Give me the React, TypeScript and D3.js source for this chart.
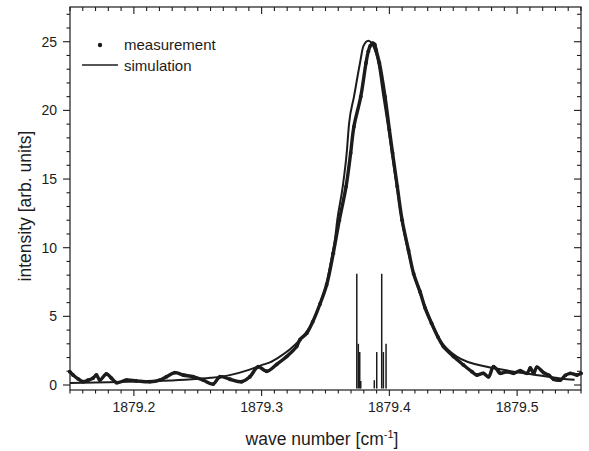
import React from "react";
import * as d3 from "d3";

const W = 589;
const H = 451;

// measurement (dots)
const measX = [1879.1498,1879.1524,1879.1563,1879.1602,1879.1641,1879.168,1879.1707,1879.1733,1879.1785,1879.1824,1879.1864,1879.1942,1879.202,1879.2125,1879.2203,1879.2255,1879.2321,1879.2386,1879.2464,1879.2542,1879.2621,1879.2673,1879.2752,1879.2843,1879.2908,1879.2973,1879.3039,1879.3118,1879.3196,1879.3274,1879.33,1879.3353,1879.34,1879.3457,1879.3509,1879.3561,1879.3608,1879.3661,1879.3697,1879.3722,1879.3776,1879.3817,1879.3835,1879.385,1879.387,1879.3885,1879.3896,1879.3922,1879.3966,1879.4,1879.4025,1879.4062,1879.41,1879.415,1879.419,1879.424,1879.428,1879.433,1879.438,1879.4423,1879.4502,1879.458,1879.4646,1879.4685,1879.4737,1879.4776,1879.4815,1879.4855,1879.4868,1879.492,1879.4972,1879.5024,1879.5077,1879.5103,1879.5129,1879.5155,1879.5207,1879.525,1879.5285,1879.5338,1879.5377,1879.5416,1879.5469,1879.55];
const measY = [0.97,0.73,0.45,0.24,0.35,0.5,0.73,0.36,0.8,0.5,0.17,0.36,0.3,0.24,0.36,0.6,0.9,0.73,0.6,0.36,0.07,0.6,0.42,0.24,0.6,1.33,1.0,1.5,2.07,2.8,3.3,3.77,4.6,5.9,7.3,9.6,12.0,14.45,16.9,18.8,21.0,23.45,24.3,24.7,24.9,24.8,24.4,23.45,21.0,18.6,16.9,14.45,12.0,9.8,8.1,6.8,5.6,4.5,3.5,2.8,2.07,1.46,0.97,0.73,0.85,0.6,1.33,0.97,0.85,0.97,0.85,1.04,0.85,1.24,0.85,1.3,0.9,0.7,0.42,0.36,0.7,0.85,0.73,0.85];

// simulation (line)
const simX = [1879.15,1879.18,1879.21,1879.24,1879.26,1879.275,1879.29,1879.3,1879.3065,1879.3143,1879.3222,1879.33,1879.3378,1879.3457,1879.3509,1879.3549,1879.3574,1879.3592,1879.3635,1879.3666,1879.3684,1879.3723,1879.377,1879.3796,1879.3835,1879.3875,1879.3914,1879.3953,1879.399,1879.4019,1879.4058,1879.4097,1879.4136,1879.4188,1879.428,1879.4397,1879.4528,1879.4763,1879.4868,1879.51,1879.539,1879.545];
const simY = [0.15,0.2,0.27,0.38,0.52,0.72,1.1,1.45,1.65,2.07,2.6,3.3,4.25,5.95,7.4,9.3,10.6,12.0,14.45,16.9,19.0,21.0,23.45,24.66,25.07,24.66,23.45,21.0,18.8,16.9,14.45,12.0,10.2,8.14,5.71,3.28,2.07,1.33,1.14,0.8,0.42,0.38];

// stick spectrum
const stickX = [1879.3745,1879.3757,1879.3768,1879.3776,1879.3882,1879.3901,1879.394,1879.3953,1879.3974];
const stickY = [8.1,3.0,2.4,0.3,0.35,2.4,8.1,2.4,3.0];

const xMajorTicks = [1879.2, 1879.3, 1879.4, 1879.5];
const yMajorTicks = [0, 5, 10, 15, 20, 25];

const FONT = "'Liberation Sans', Arial, Helvetica, sans-serif";
const INK = "#1c1c1c";

export default function App() {
  const left = 70, right = 581, top = 7, bottom = 390;
  const x = d3.scaleLinear().domain([1879.15, 1879.55]).range([left, right]);
  const y = d3.scaleLinear().domain([-0.364, 27.53]).range([bottom, top]);

  const xMinor = d3.range(0, 41).map((i) => 1879.15 + i * 0.01).filter((v) => v <= 1879.5501);
  const yMinor = d3.range(0, 28).map((i) => i);

  const meas = measX.map((v, i) => [v, measY[i]] as [number, number]);
  const sim = simX.map((v, i) => [v, simY[i]] as [number, number]);

  const measLine = d3.line<[number, number]>().x((d) => x(d[0])).y((d) => y(d[1])).curve(d3.curveCatmullRom.alpha(0.5));
  const simLine = d3.line<[number, number]>().x((d) => x(d[0])).y((d) => y(d[1])).curve(d3.curveMonotoneX);

  const isMajorX = (v: number) => xMajorTicks.some((m) => Math.abs(m - v) < 1e-6);
  const isMajorY = (v: number) => v % 5 === 0;

  return (
    <svg width={W} height={H} style={{ position: "absolute", left: 0, top: 0, background: "#fff" }}>
      <rect x={0} y={0} width={W} height={H} fill="#fff" />
      {/* sticks */}
      {stickX.map((sx, i) => (
        <line key={"s" + i} x1={x(sx)} x2={x(sx)} y1={bottom - 1.5} y2={y(stickY[i])} stroke={INK} strokeWidth={1.5} />
      ))}
      {/* simulation */}
      <path d={simLine(sim) || ""} fill="none" stroke={INK} strokeWidth={2} />
      {/* measurement */}
      <path d={measLine(meas) || ""} fill="none" stroke={INK} strokeWidth={3.4} strokeLinejoin="round" strokeLinecap="round" />
      {meas.map((d, i) => (
        <circle key={"m" + i} cx={x(d[0])} cy={y(d[1])} r={1.9} fill={INK} />
      ))}

      {/* frame */}
      <rect x={left} y={top} width={right - left} height={bottom - top} fill="none" stroke={INK} strokeWidth={1.2} />

      {/* x ticks bottom (outward) and top (inward) */}
      {xMinor.map((v, i) => {
        const maj = isMajorX(v);
        const len = maj ? 6 : 3.5;
        return (
          <g key={"xt" + i}>
            <line x1={x(v)} x2={x(v)} y1={bottom} y2={bottom + len} stroke={INK} strokeWidth={1.1} />
            <line x1={x(v)} x2={x(v)} y1={top} y2={top + (maj ? 7 : 4)} stroke={INK} strokeWidth={1.1} />
          </g>
        );
      })}
      {xMajorTicks.map((v) => (
        <text key={"xl" + v} x={x(v)} y={412} textAnchor="middle" fontFamily={FONT} fontSize={14} fill={INK}>
          {v.toFixed(1)}
        </text>
      ))}

      {/* y ticks left (outward) and right (inward) */}
      {yMinor.map((v) => {
        const maj = isMajorY(v);
        return (
          <g key={"yt" + v}>
            <line x1={left} x2={left - (maj ? 7 : 3.5)} y1={y(v)} y2={y(v)} stroke={INK} strokeWidth={1.1} />
            <line x1={right} x2={right - (maj ? 7 : 4)} y1={y(v)} y2={y(v)} stroke={INK} strokeWidth={1.1} />
          </g>
        );
      })}
      {yMajorTicks.map((v) => (
        <text key={"yl" + v} x={57} y={y(v)} dy="0.35em" textAnchor="end" fontFamily={FONT} fontSize={14} fill={INK}>
          {v}
        </text>
      ))}

      {/* axis titles */}
      <text x={322} y={445} textAnchor="middle" fontFamily={FONT} fontSize={17.5} fill={INK}>
        wave number [cm
        <tspan dy={-7} fontSize={11}>-1</tspan>
        <tspan dy={7}>]</tspan>
      </text>
      <text transform={`translate(31,206) rotate(-90)`} textAnchor="middle" fontFamily={FONT} fontSize={17.5} fill={INK}>
        intensity [arb. units]
      </text>

      {/* legend */}
      <circle cx={100} cy={45} r={2.2} fill={INK} />
      <text x={124} y={50} fontFamily={FONT} fontSize={15} fill={INK}>measurement</text>
      <line x1={82} x2={118} y1={65} y2={65} stroke={INK} strokeWidth={1.3} />
      <text x={124} y={70.5} fontFamily={FONT} fontSize={15} fill={INK}>simulation</text>
    </svg>
  );
}
